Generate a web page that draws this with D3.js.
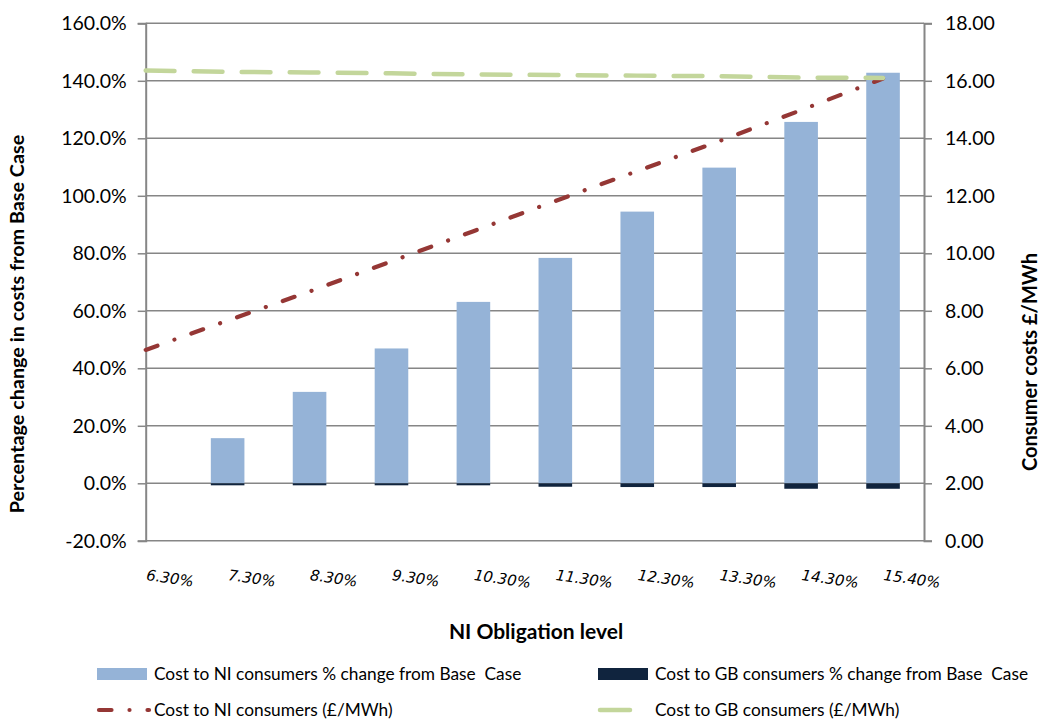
<!DOCTYPE html>
<html>
<head>
<meta charset="utf-8">
<script src="https://cdn.jsdelivr.net/npm/d3@7"></script>
<style>
  html, body { margin: 0; padding: 0; background: #fff; }
  svg { display: block; }
  text { fill: #000; }
</style>
</head>
<body>
<svg id="chart" width="1042" height="719"></svg>
<script>
// NI obligation levels (category axis)
const categories = ["6.30%", "7.30%", "8.30%", "9.30%", "10.30%", "11.30%", "12.30%", "13.30%", "14.30%", "15.40%"];
// % change from base case (left axis)
const niPctChange = [0, 15.7, 31.8, 46.9, 63.1, 78.4, 94.5, 109.8, 125.7, 142.8];
const gbPctChange = [0, -0.7, -0.7, -0.7, -0.7, -1.2, -1.3, -1.3, -1.9, -1.9];
// consumer costs £/MWh (right axis)
const niCost = [6.64, 7.66, 8.67, 9.72, 10.77, 11.82, 12.86, 13.90, 14.98, 16.08];
const gbCost = [16.36, 16.31, 16.29, 16.26, 16.22, 16.20, 16.18, 16.16, 16.11, 16.10];
// tick values
const leftTicks = [-20, 0, 20, 40, 60, 80, 100, 120, 140, 160];
const rightTicks = [0, 2, 4, 6, 8, 10, 12, 14, 16, 18];

const colors = { ni: "#95b3d7", gb: "#10243e", niLine: "#953735", gbLine: "#c3d69b", grid: "#868686" };

const svg = d3.select("#chart");
const L = 145.7, R = 924, T = 23.3, B = 540.8;

const x = d3.scalePoint().domain(categories).range([L, L + 9 * (R - L) / 9.5]);
const step = x.step();
const barW = step * 0.41;
const yL = d3.scaleLinear().domain([-20, 160]).range([B, T]);
const yR = d3.scaleLinear().domain([0, 18]).range([B, T]);

const tickFont = "Lato, 'Open Sans', sans-serif";

// horizontal gridlines
svg.append("g").selectAll("line").data(leftTicks).join("line")
  .attr("x1", L).attr("x2", R)
  .attr("y1", d => yL(d)).attr("y2", d => yL(d))
  .attr("stroke", colors.grid).attr("stroke-width", 1.5);

// bars: NI (positive) and GB (negative) share the same slot
const rows = categories.map((c, i) => ({ c, ni: niPctChange[i], gb: gbPctChange[i] }));
svg.append("g").selectAll("rect").data(rows).join("rect")
  .attr("x", d => x(d.c) - barW / 2).attr("width", barW)
  .attr("y", d => yL(Math.max(0, d.ni)))
  .attr("height", d => Math.abs(yL(d.ni) - yL(0)))
  .attr("fill", colors.ni);
svg.append("g").selectAll("rect").data(rows).join("rect")
  .attr("x", d => x(d.c) - barW / 2).attr("width", barW)
  .attr("y", yL(0))
  .attr("height", d => Math.abs(yL(d.gb) - yL(0)))
  .attr("fill", colors.gb);

// left axis
const axL = d3.axisLeft(yL).tickValues(leftTicks).tickSize(8).tickPadding(11)
  .tickFormat(d => d.toFixed(1) + "%");
const gL = svg.append("g").attr("transform", `translate(${L},0)`).call(axL);
// right axis
const axR = d3.axisRight(yR).tickValues(rightTicks).tickSize(8).tickPadding(13)
  .tickFormat(d3.format(".2f"));
const gR = svg.append("g").attr("transform", `translate(${R},0)`).call(axR);
[gL, gR].forEach(g => {
  g.select(".domain").attr("stroke", colors.grid).attr("stroke-width", 2);
  g.selectAll(".tick line").attr("stroke", colors.grid).attr("stroke-width", 1.5);
  g.selectAll(".tick text").attr("font-family", tickFont).attr("font-size", 19.5).attr("fill", "#000");
});

// category labels, slightly rotated
svg.append("g").selectAll("text").data(categories).join("text")
  .attr("x", d => x(d)).attr("y", 580)
  .attr("transform", d => `rotate(8,${x(d)},580)`)
  .attr("font-family", "'DejaVu Sans', sans-serif").attr("font-style", "italic")
  .attr("font-size", 15).text(d => d);

// cost lines
const lineNI = d3.line().x((d, i) => x(categories[i])).y(d => yR(d));
svg.append("path").datum(niCost).attr("d", lineNI)
  .attr("fill", "none").attr("stroke", colors.niLine).attr("stroke-width", 4.2)
  .attr("stroke-linecap", "round").attr("stroke-dasharray", "12.5,18,0.01,18");
svg.append("path").datum(gbCost).attr("d", lineNI)
  .attr("fill", "none").attr("stroke", colors.gbLine).attr("stroke-width", 4.5)
  .attr("stroke-linecap", "round").attr("stroke-dasharray", "28.8,19.2");

// axis titles
const titleFont = "Lato, 'Open Sans', sans-serif";
svg.append("text").attr("transform", "translate(24,324) rotate(-90)")
  .attr("text-anchor", "middle").attr("font-family", titleFont)
  .attr("font-weight", "bold").attr("font-size", 19.8)
  .text("Percentage change in costs from Base Case");
svg.append("text").attr("transform", "translate(1037,362) rotate(-90)")
  .attr("text-anchor", "middle").attr("font-family", titleFont)
  .attr("font-weight", "bold").attr("font-size", 20)
  .text("Consumer costs £/MWh");
svg.append("text").attr("x", 536).attr("y", 639)
  .attr("text-anchor", "middle").attr("font-family", titleFont)
  .attr("font-weight", "bold").attr("font-size", 21)
  .text("NI Obligation level");

// legend
const legendFont = "Lato, 'Open Sans', sans-serif";
const legend = [
  { label: "Cost to NI consumers % change from Base  Case", type: "rect", color: colors.ni, x: 97, y: 674 },
  { label: "Cost to GB consumers % change from Base  Case", type: "rect", color: colors.gb, x: 598, y: 674 },
  { label: "Cost to NI consumers (£/MWh)", type: "dashdot", color: colors.niLine, x: 97, y: 710 },
  { label: "Cost to GB consumers (£/MWh)", type: "dash", color: colors.gbLine, x: 598, y: 710 }
];
const lg = svg.append("g").selectAll("g").data(legend).join("g")
  .attr("transform", d => `translate(${d.x},${d.y})`);
lg.filter(d => d.type === "rect").append("rect")
  .attr("x", 0).attr("y", -6).attr("width", 50).attr("height", 12)
  .attr("fill", d => d.color);
lg.filter(d => d.type === "dashdot").append("line")
  .attr("x1", 2).attr("x2", 52).attr("y1", 0).attr("y2", 0)
  .attr("stroke", d => d.color).attr("stroke-width", 4.2)
  .attr("stroke-linecap", "round").attr("stroke-dasharray", "12.5,18,0.01,18");
lg.filter(d => d.type === "dash").append("line")
  .attr("x1", 2).attr("x2", 32).attr("y1", 0).attr("y2", 0)
  .attr("stroke", d => d.color).attr("stroke-width", 4.5)
  .attr("stroke-linecap", "round");
lg.append("text").attr("x", 57).attr("y", 5.5)
  .attr("font-family", legendFont).attr("font-size", 17.3)
  .attr("xml:space", "preserve").style("white-space", "pre")
  .text(d => d.label);
</script>
</body>
</html>
